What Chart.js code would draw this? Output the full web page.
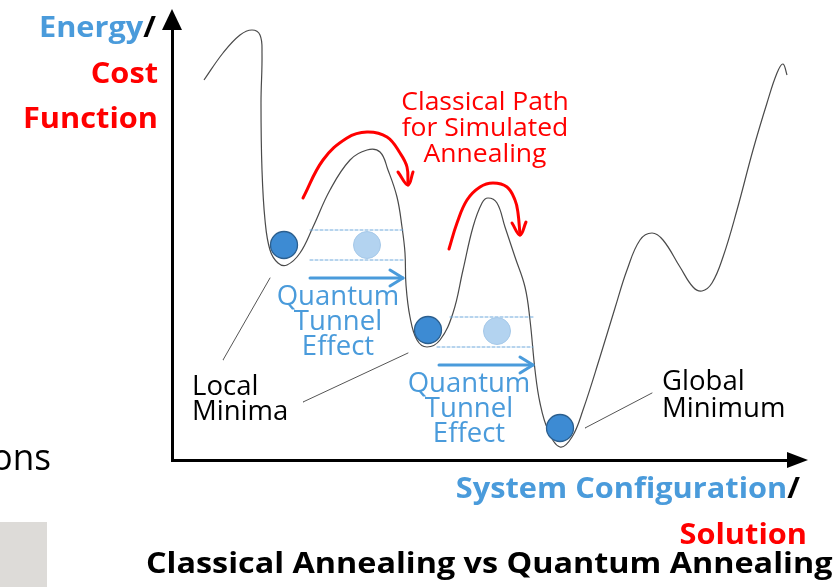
<!DOCTYPE html>
<html>
<head>
<meta charset="utf-8">
<script src="https://cdn.jsdelivr.net/npm/chart.js@4.4.1/dist/chart.umd.min.js"></script>
<style>
  html, body { margin: 0; padding: 0; background: #fff; }
  #wrap { position: relative; width: 834px; height: 587px; }
</style>
</head>
<body>
<div id="wrap"><canvas id="landscape"></canvas></div>
<script>
// Энергетический ландшафт (x - конфигурация, y - энергия)
const curveX = [32, 51, 68, 80, 88, 90, 89, 90, 93, 98, 106, 115, 128, 141, 158, 178, 195, 208, 216, 225, 230, 233, 234,
  238, 245, 255, 268, 281, 291, 301, 310, 316, 325, 333, 343, 353, 358, 363, 368, 376, 388, 400, 411, 428, 443, 455,
  468, 480, 491, 508, 521, 530, 540, 551, 565, 581, 595, 605, 611, 615];
const curveY = [380, 407, 425, 430, 425, 407, 357, 290, 240, 210, 197, 195, 207, 233, 270, 300, 310, 308, 290, 263, 233, 207, 175,
  143, 120, 113, 120, 147, 190, 233, 257, 262, 257, 233, 203, 173, 140, 90, 57, 30, 13, 23, 50, 103, 152, 190,
  220, 227, 220, 193, 173, 169, 177, 203, 250, 310, 357, 387, 396, 385];

// Шарики: в минимумах и "призраки" после туннелирования
const ballX = [112, 256, 388];
const ballY = [215, 130, 32];
const ghostX = [195, 325];
const ghostY = [215, 129];

// Пунктирные уровни
const levelLines = [
  [[138, 230], [231, 230]], [[138, 200], [231, 200]],
  [[278, 143], [361, 143]], [[265, 113], [361, 113]]
];
// Синие стрелки туннелирования
const tunnelArrows = [
  [[138, 182], [231, 182]], [[218, 190], [231, 182], [218, 174]],
  [[267, 95], [361, 95]], [[348, 103], [361, 95], [348, 87]]
];
// Красные стрелки классического пути
const redPaths = [
  [[131, 262], [151, 300], [175, 322], [195, 328], [215, 323], [228, 307], [235, 293], [236, 275]],
  [[226, 288], [236, 275], [241, 288]],
  [[277, 211], [285, 237], [295, 260], [308, 273], [321, 277], [335, 273], [343, 260], [346, 247], [348, 225]],
  [[340, 237], [348, 225], [354, 238]]
];
// Выноски к подписям
const leaderLines = [
  [[51, 100], [98, 182]],
  [[131, 58], [236, 107]],
  [[413, 32], [480, 67]]
];

// Подписи внутри графика
const tunnelText = ['Quantum', 'Tunnel', 'Effect'];
const classicText = ['Classical Path', 'for Simulated', 'Annealing'];
const localText = ['Local', 'Minima'];
const globalText = ['Global', 'Minimum'];
const chartTitle = 'Classical Annealing vs Quantum Annealing';

const BLUE = '#4a9bdb';
const RED = '#ff0000';
const FONT = '"Open Sans", sans-serif';

function zip(xs, ys) {
    return xs.map((x, i) => ({ x: x, y: ys[i] }));
}
function pts(arr) {
    return arr.map(p => ({ x: p[0], y: p[1] }));
}
function segSet(list, color, width, dash, tension, order) {
    return list.map(seg => ({
        data: pts(seg), showLine: true, borderColor: color, borderWidth: width,
        borderDash: dash, pointRadius: 0, tension: tension, fill: false, clip: false,
        borderCapStyle: 'round', borderJoinStyle: 'round', order: order
    }));
}

const datasets = [
    {
        data: zip(ballX, ballY), pointRadius: 13.5, pointHoverRadius: 13.5,
        backgroundColor: '#3d8bd3', borderColor: '#2c5f8e', borderWidth: 1.3, showLine: false, clip: false, order: 0
    },
    {
        data: zip(ghostX, ghostY), pointRadius: 13.5, pointHoverRadius: 13.5,
        backgroundColor: '#b3d3f0', borderColor: '#a5c8e8', borderWidth: 1, showLine: false, clip: false, order: 1
    },
    {
        data: zip(curveX, curveY), showLine: true, borderColor: '#4a4a4a', borderWidth: 1.2,
        pointRadius: 0, tension: 0.4, fill: false, clip: false, order: 5
    }
].concat(
    segSet(levelLines, '#6ea9dc', 1, [3, 2], 0, 4),
    segSet(tunnelArrows, '#4a9bdb', 3, [], 0, 2),
    segSet(redPaths, RED, 3, [], 0.4, 2),
    segSet(leaderLines, '#555', 1, [], 0, 4)
);

// Текст с небольшим растяжением по горизонтали
function wideText(ctx, text, x, y, align, sx) {
    ctx.save();
    ctx.translate(x, y);
    ctx.scale(sx, 1);
    ctx.textAlign = align;
    ctx.fillText(text, 0, 0);
    ctx.restore();
}

// Подписи и стрелки осей
const labelsPlugin = {
    id: 'labels',
    afterDraw(chart) {
        const ctx = chart.ctx;
        const area = chart.chartArea;
        const sx = chart.scales.x, sy = chart.scales.y;
        const X = v => sx.getPixelForValue(v);
        const Y = v => sy.getPixelForValue(v);
        ctx.save();
        ctx.textBaseline = 'alphabetic';

        // стрелки осей
        ctx.fillStyle = '#000';
        ctx.beginPath();
        ctx.moveTo(area.left, 9);
        ctx.lineTo(area.left - 10, area.top + 1);
        ctx.lineTo(area.left + 10, area.top + 1);
        ctx.closePath();
        ctx.fill();
        ctx.beginPath();
        ctx.moveTo(808, area.bottom);
        ctx.lineTo(area.right - 1, area.bottom - 8);
        ctx.lineTo(area.right - 1, area.bottom + 8);
        ctx.closePath();
        ctx.fill();

        const lines = (arr, x, y0, step, align, color, font) => {
            ctx.font = font;
            ctx.fillStyle = color;
            arr.forEach((t, i) => wideText(ctx, t, x, y0 + i * step, align, 1.02));
        };
        const reg = '27px ' + FONT;
        lines(tunnelText, X(166), Y(155), 25, 'center', BLUE, reg);
        lines(tunnelText, X(297), Y(68), 25, 'center', BLUE, reg);
        lines(classicText, X(313), Y(350), 26, 'center', RED, '26px ' + FONT);
        lines(localText, X(20), Y(65), 25, 'left', '#000', reg);
        lines(globalText, X(490), Y(70), 27, 'left', '#000', reg);

        // подписи осей
        const k = 1.06;
        ctx.font = 'bold 29px ' + FONT;
        const slashW = ctx.measureText('/').width * k;
        ctx.fillStyle = '#000';
        wideText(ctx, '/', 156, 37, 'right', k);
        ctx.fillStyle = BLUE;
        wideText(ctx, 'Energy', 156 - slashW, 37, 'right', k);
        ctx.fillStyle = RED;
        wideText(ctx, 'Cost', 158, 83, 'right', k);
        wideText(ctx, 'Function', 158, 128, 'right', k);

        ctx.fillStyle = '#000';
        wideText(ctx, '/', 800, 498, 'right', k);
        ctx.fillStyle = BLUE;
        wideText(ctx, 'System Configuration', 800 - slashW, 498, 'right', k);
        ctx.fillStyle = RED;
        wideText(ctx, 'Solution', 807, 544, 'right', k);

        ctx.fillStyle = '#000';
        ctx.font = 'bold 28px ' + FONT;
        wideText(ctx, chartTitle, 146, 573, 'left', 1.155);

        // обрывок соседнего слайда
        ctx.font = '37px ' + FONT;
        wideText(ctx, 'ons', 51, 470, 'right', 0.95);
        ctx.fillStyle = '#dddbd8';
        ctx.fillRect(0, 522, 47, 65);
        ctx.restore();
    }
};

new Chart(document.getElementById('landscape'), {
    type: 'scatter',
    data: { datasets: datasets },
    options: {
        responsive: true,
        maintainAspectRatio: false,
        animation: false,
        events: [],
        layout: { padding: { left: 164, right: 46, top: 29, bottom: 119 } },
        plugins: { legend: { display: false }, tooltip: { enabled: false } },
        scales: {
            x: {
                type: 'linear', min: 0, max: 616,
                grid: { display: false }, ticks: { display: false },
                border: { display: true, color: '#000', width: 3 }
            },
            y: {
                type: 'linear', min: 0, max: 431,
                grid: { display: false }, ticks: { display: false },
                border: { display: true, color: '#000', width: 3 }
            }
        }
    },
    plugins: [labelsPlugin]
});
</script>
</body>
</html>
